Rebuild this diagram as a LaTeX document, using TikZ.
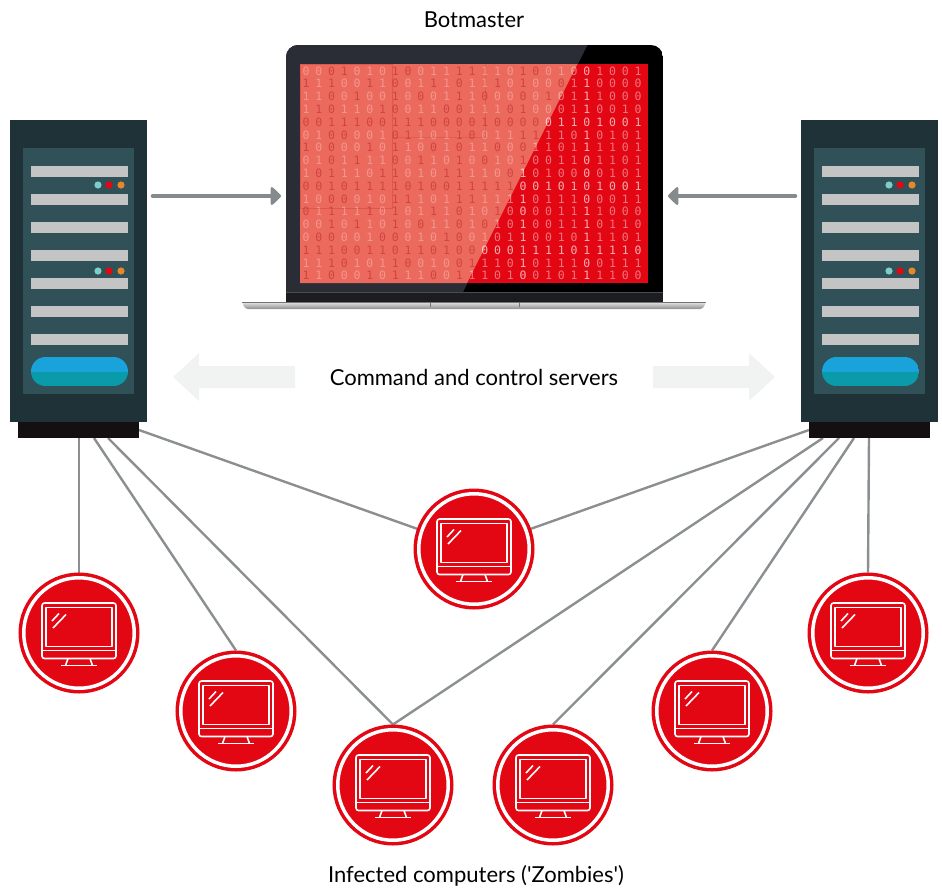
\documentclass[tikz,border=0pt]{standalone}
\usepackage{fontspec}
\setmainfont{Lato}
\newfontfamily\digitfont{DejaVu Sans Mono}
\usetikzlibrary{arrows.meta}

\definecolor{zred}{HTML}{E30613}
\definecolor{glare}{HTML}{EC6A5D}
\definecolor{srvout}{HTML}{1F3238}
\definecolor{srvin}{HTML}{2F5157}
\definecolor{srvbar}{HTML}{C4C4C4}
\definecolor{srvbase}{HTML}{140F10}
\definecolor{ledteal}{HTML}{7FCDC8}
\definecolor{ledorange}{HTML}{E8862A}
\definecolor{pillblue}{HTML}{1AA2DB}
\definecolor{pillteal}{HTML}{0A9BAA}
\definecolor{bezel}{HTML}{2A2D35}
\definecolor{bezelbot}{HTML}{1C1D21}
\definecolor{linkgray}{HTML}{8B8F91}
\definecolor{arrowgray}{HTML}{858B8C}
\definecolor{palearrow}{HTML}{F1F2F2}
\definecolor{digitdark}{HTML}{C4362F}

\pgfdeclarelayer{bg}
\pgfsetlayers{bg,main}

\tikzset{
  label/.style={font=\fontsize{22}{26}\selectfont, text=black, inner sep=0pt},
  link/.style={draw=linkgray, line width=2.4pt},
  feed/.style={draw=arrowgray, line width=4.6pt, line cap=round,
    -{Triangle[length=11pt,width=21pt,round=false]}},
  zombie/.style={circle, fill=zred, draw=zred, double=white, line width=3.5pt,
    double distance=3.5pt, minimum size=110.5pt, inner sep=0pt, outer sep=5.25pt},
  digit/.style={font=\digitfont\fontsize{11.5}{11.5}\selectfont, inner sep=0pt},
  % rack server, origin at the top left corner of the cabinet
  server/.pic={
    \fill[srvout] (0,0) rectangle (137,302);
    \fill[srvbase] (8,302) rectangle (129,318);
    \fill[srvin] (13,28) rectangle (124,274);
    \foreach \yy in {46,74,...,214}
      \fill[srvbar] (21,\yy) rectangle (118,\yy+11);
    \foreach \yy in {65,151} {
      \fill[ledteal] (88,\yy) circle (3.6pt);
      \fill[zred] (99,\yy) circle (3.6pt);
      \fill[ledorange] (111,\yy) circle (3.6pt);
    }
    \begin{scope}
      \clip[rounded corners=14.5pt] (21,237) rectangle (118,266);
      \fill[pillblue] (21,237) rectangle (118,252);
      \fill[pillteal] (21,252) rectangle (118,266);
    \end{scope}
  },
  % desktop monitor icon, origin at its centre
  monitor/.pic={
    \begin{scope}[draw=white, line width=1.6pt, line join=round]
      \draw[rounded corners=2.5pt] (-37,-30) rectangle (37,25.5);
      \draw (-33,-25.5) rectangle (33,13.5);
      \draw (-37,17.5) -- (37,17.5);
      \draw (-11,25.5) -- (-13.5,32.5) (11,25.5) -- (13.5,32.5);
      \draw (-18,32.5) -- (18,32.5);
      \draw (-27,-12) -- (-20,-19.5);
      \draw (-26,-5) -- (-13,-18.5);
    \end{scope}
  }
}

\begin{document}
\begin{tikzpicture}[x=1pt,y=-1pt]
\useasboundingbox (0,0) rectangle (942,889);

% ---------- labels ----------
\node[label] (botmaster) at (474,20) {Botmaster};
\node[label] (cc) at (474,377) {Command and control servers};
\node[label] (infected) at (476,876) {Infected computers (\textquotesingle Zombies\textquotesingle)};

% ---------- pale double arrows beside the middle label ----------
\fill[palearrow] (173,377) -- (199,353) -- (199,366) -- (295,366)
  -- (295,388) -- (199,388) -- (199,401) -- cycle;
\fill[palearrow] (775,377) -- (749,353) -- (749,366) -- (653,366)
  -- (653,388) -- (749,388) -- (749,401) -- cycle;

% ---------- laptop ----------
\begin{scope}
  \clip[rounded corners=12pt] (286,45) rectangle (663,330);
  \fill[black] (286,45) rectangle (663,302);
  \fill[bezel] (286,45) -- (587.5,45) -- (458,302) -- (286,302) -- cycle;
\end{scope}
\fill[bezelbot] (286,292) rectangle (663,302);
\draw[draw=black!70!white, line width=0.6pt] (286,292) -- (663,292);
% screen
\fill[zred] (300,64) rectangle (648,283);
\begin{scope}
  \clip (300,64) rectangle (648,283);
  \fill[glare] (300,64) -- (577.5,64) -- (467,283) -- (300,283) -- cycle;
  \draw[digitdark, opacity=0.35, line width=0.8pt] (300,64) rectangle (392,208);
  \draw[digitdark, opacity=0.25, line width=0.8pt] (392,137) -- (485,137) -- (485,64);
\end{scope}
% scrolling binary code
\foreach \row [count=\r] in {
  {0,0,0,1,0,1,0,1,0,0,1,1,1,1,1,1,0,1,0,0,1,0,0,1,0,0,1},
  {1,1,1,0,0,1,1,0,0,1,1,1,0,1,1,1,0,1,0,0,0,1,1,0,0,0,0},
  {1,1,0,0,1,0,0,1,0,0,0,1,1,1,0,0,0,0,0,1,0,1,1,1,0,0,0},
  {1,1,0,1,1,0,1,0,0,1,1,0,0,1,1,1,0,1,0,0,0,1,1,0,0,1,0},
  {0,0,1,1,1,0,0,1,1,1,0,0,0,0,1,0,0,0,0,0,1,1,0,1,0,0,1},
  {0,1,0,0,0,0,1,0,1,1,0,1,1,0,0,1,1,1,1,1,1,0,1,0,1,0,1},
  {1,0,0,0,0,1,0,1,1,0,0,1,0,1,1,0,0,0,1,1,0,1,1,1,1,0,1},
  {0,1,0,1,1,1,1,0,0,1,1,0,1,0,0,1,0,1,0,0,1,1,0,1,1,0,1},
  {1,0,1,1,1,0,1,1,0,1,0,1,1,1,1,0,0,1,0,1,0,0,0,0,1,0,1},
  {0,0,1,0,1,1,1,1,0,1,0,0,1,1,1,1,1,0,0,1,0,1,0,1,0,0,1},
  {1,0,0,0,0,1,0,1,1,1,0,1,1,1,1,1,1,1,0,1,1,1,0,0,0,1,1},
  {0,1,1,1,1,1,0,1,0,1,1,1,0,1,0,1,0,0,0,0,1,1,1,1,0,0,0},
  {0,0,1,0,1,1,0,1,0,0,1,1,0,1,0,1,0,1,0,0,1,1,1,0,1,1,0},
  {0,0,0,0,0,1,0,0,0,1,0,1,0,0,1,0,1,1,0,0,1,0,1,1,1,0,1},
  {1,1,1,0,0,1,1,0,1,1,0,1,0,0,0,0,0,1,1,1,1,0,1,1,1,1,0},
  {1,1,1,0,1,0,1,1,0,0,1,0,0,1,1,1,0,1,0,1,1,1,0,0,1,1,1},
  {1,1,0,0,0,1,0,1,1,1,0,0,1,1,1,0,1,0,0,1,0,1,1,1,1,0,0}} {
  \foreach \d [count=\c] in \row {
    \pgfmathsetmacro\dx{306+(\c-1)*12.77}
    \pgfmathsetmacro\dy{71+(\r-1)*12.8}
    \pgfmathtruncatemacro\inglare{\dx<(587-0.504*(\dy-45)) ? 1 : 0}
    \pgfmathtruncatemacro\k{mod(\r*7+\c*5+\r*\c,5)}
    \ifnum\inglare=1
      \ifnum\k<2 \def\dcol{digitdark}\def\dop{0.7}\else\def\dcol{white}\def\dop{0.3}\fi
    \else
      \ifnum\k=0 \def\dcol{white}\def\dop{0.68}\else\def\dcol{white}\def\dop{0.45}\fi
    \fi
    \node[digit, text=\dcol, text opacity=\dop] (d-\r-\c) at (\dx,\dy) {\d};
  }
}
% aluminium base with its thumb notch
\shade[top color=black!10, bottom color=black!45, rounded corners=3pt]
  (242,302) -- (706,302) -- (703,309) -- (245,309) -- cycle;
\fill[black!55] (242,302) rectangle (706,303);
\draw[black!55, line width=0.8pt] (430,302) -- (430,307) (519,302) -- (519,307);

% ---------- servers ----------
\pic (lsrv) at (10,120) {server};
\pic (rsrv) at (801,120) {server};

% ---------- feeds into the botmaster ----------
\coordinate (lfeed) at (153,196);
\coordinate (lbot) at (281,196);
\coordinate (rfeed) at (795,196);
\coordinate (rbot) at (668,196);
\draw[feed] (lfeed) -- (lbot);
\draw[feed] (rfeed) -- (rbot);

% ---------- zombies ----------
\node[zombie] (z0) at (474,549) {};
\node[zombie] (z1) at (79,633) {};
\node[zombie] (z2) at (236,711) {};
\node[zombie] (z3) at (393,785) {};
\node[zombie] (z4) at (553,785) {};
\node[zombie] (z5) at (712,711) {};
\node[zombie] (z6) at (868,633) {};
\foreach \z in {z0,z1,z2,z3,z4,z5,z6}
  \pic at (\z) {monitor};

% ---------- server to zombie links ----------
\coordinate (lp1) at (79,438);
\coordinate (lp2) at (94,438);
\coordinate (lp3) at (108,438);
\coordinate (lp4) at (139,430);
\coordinate (rp1) at (869,438);
\coordinate (rp2) at (854,438);
\coordinate (rp3) at (839,438);
\coordinate (rp4) at (823,438);
\coordinate (rp5) at (809,430);
\begin{pgfonlayer}{bg}
  \draw[link] (lp1) -- (z1.north);
  \draw[link] (lp2) -- (z2.north);
  \draw[link] (lp3) -- (z3.north);
  \draw[link] (lp4) -- (z0.center);
  \draw[link] (rp1) -- (z6.north);
  \draw[link] (rp2) -- (z5.north);
  \draw[link] (rp3) -- (z4.north);
  \draw[link] (rp4) -- (z3.north);
  \draw[link] (rp5) -- (z0.center);
\end{pgfonlayer}
\end{tikzpicture}
\end{document}
